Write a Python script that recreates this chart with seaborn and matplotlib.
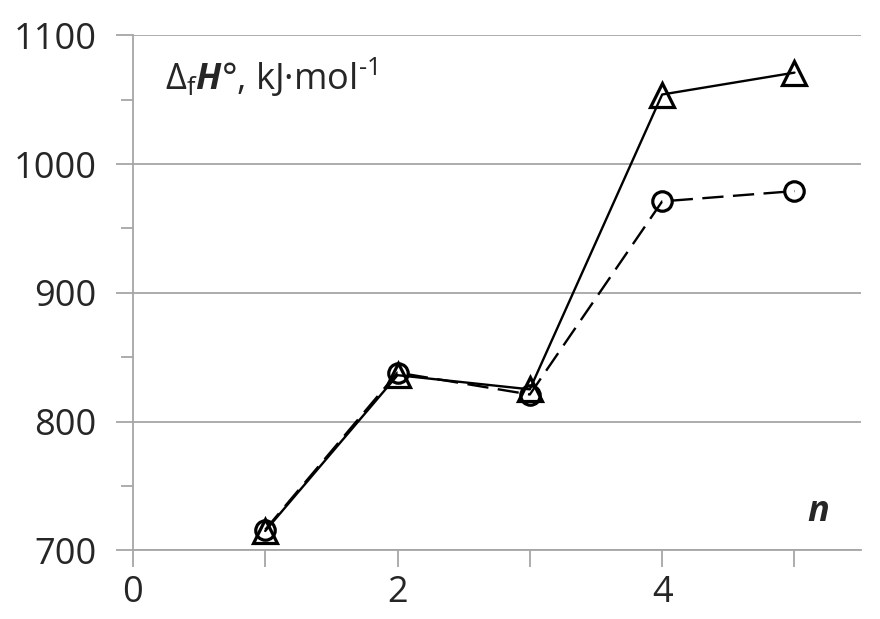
import pandas as pd
import matplotlib.pyplot as plt
import seaborn as sns

# data
n_values = [1, 2, 3, 4, 5]
dh_triangle = [715, 836, 825, 1054, 1071]
dh_circle = [716, 838, 821, 971, 979]

df = pd.DataFrame({'n': n_values, 'tri': dh_triangle, 'circ': dh_circle})

sns.set_style('white')
plt.rcParams['font.family'] = ['Open Sans', 'DejaVu Sans']
plt.rcParams['mathtext.fontset'] = 'custom'
plt.rcParams['mathtext.rm'] = 'Open Sans'
plt.rcParams['mathtext.it'] = 'Open Sans:italic'
plt.rcParams['mathtext.bf'] = 'Open Sans:bold'
plt.rcParams['mathtext.bfit'] = 'Open Sans:italic:bold'

fig = plt.figure(figsize=(8.8, 6.19), dpi=100)
ax = fig.add_axes([0.151, 0.111, 0.827, 0.832])

sns.lineplot(data=df, x='n', y='tri', ax=ax, color='black', lw=1.7,
             marker='^', ms=17, mfc='none', mec='black', mew=2.3)
sns.lineplot(data=df, x='n', y='circ', ax=ax, color='black', lw=1.7,
             marker='o', ms=14, mfc='none', mec='black', mew=2.3)
ax.lines[-1].set_dashes([9, 4])

ax.set_xlim(0, 5.5)
ax.set_ylim(700, 1100)
ax.set_xticks([0, 2, 4])
ax.set_xticks([1, 3, 5], minor=True)
ax.set_yticks([700, 800, 900, 1000, 1100])
ax.set_yticks([750, 850, 950, 1050], minor=True)
ax.yaxis.grid(True, color='#a6a6a6', lw=1.3)
ax.xaxis.grid(False)

for s in ['top', 'right']:
    ax.spines[s].set_visible(False)
for s in ['left', 'bottom']:
    ax.spines[s].set_color('#a6a6a6')
    ax.spines[s].set_linewidth(1.3)

ax.tick_params(axis='both', which='both', bottom=True, left=True,
               direction='out', width=1.3, color='#a6a6a6')
ax.tick_params(axis='x', which='major', length=12, labelsize=26, pad=6)
ax.tick_params(axis='x', which='minor', length=12)
ax.tick_params(axis='y', which='major', length=12, labelsize=26, pad=14)
ax.tick_params(axis='y', which='minor', length=9)
ax.set_xlabel('')
ax.set_ylabel('')

ax.text(0.044, 0.918, r'$\Delta_{\mathrm{f}}\mathbfit{H}$°, kJ·mol$^{\text{-1}}$',
        transform=ax.transAxes, fontsize=26, va='center', ha='left')
ax.text(0.942, 0.075, r'$\mathbfit{n}$', transform=ax.transAxes, fontsize=26,
        va='center', ha='center')

fig.savefig('out.png', dpi=100)
